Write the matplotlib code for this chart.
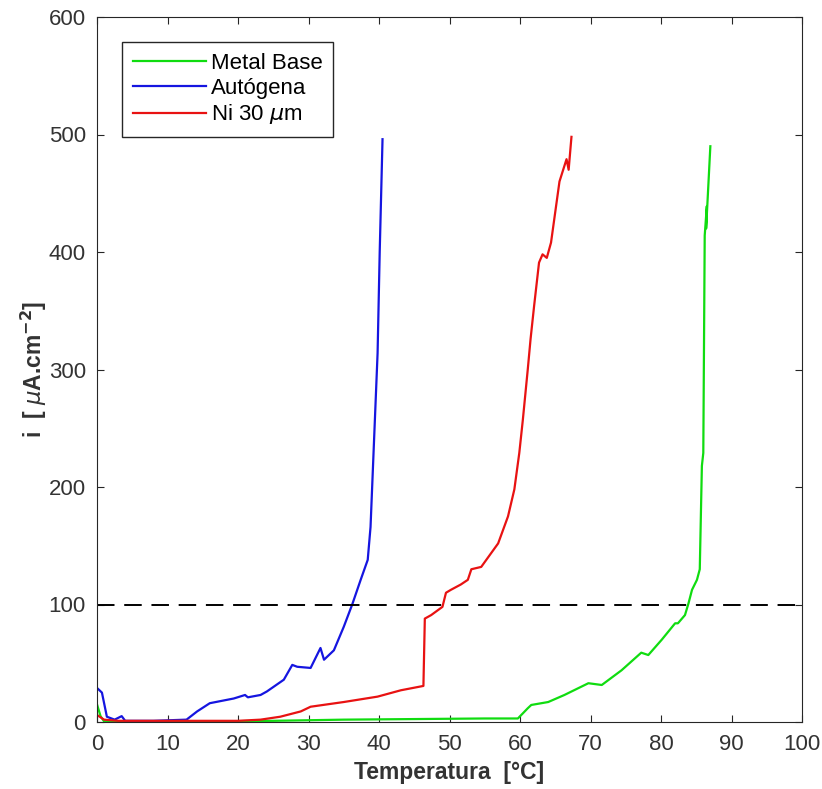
import matplotlib.pyplot as plt

plt.rcParams['font.family'] = ['Liberation Sans', 'DejaVu Sans']
plt.rc('xtick', labelsize=16)
plt.rc('ytick', labelsize=16)

# Metal Base
temp_base = [0, 0.5, 1.0, 5, 15, 25, 35, 45, 55, 59.7, 61.1, 61.6, 64.0, 66.3, 69.7, 71.6,
             74.4, 77.2, 78.2, 80.1, 82.0, 82.4, 83.4, 83.9, 84.4, 85.1, 85.5, 85.7,
             85.8, 86.0, 86.2, 86.5, 86.4, 87.0]
i_base = [15, 5, 0.5, 0.5, 0.5, 1, 2, 2.5, 3, 3, 11.7, 14.5, 17, 23, 33, 31.5,
          44, 59, 57, 70, 84, 84, 91, 101, 112.5, 121, 130, 189,
          218, 229, 414, 439, 420, 490]

# Autogena
temp_auto = [0, 0.7, 1.4, 2.5, 3.5, 4.0, 8, 12.7, 14.2, 16.0, 19.4, 21.0, 21.4, 23.2, 24.1,
             26.5, 27.7, 28.4, 30.3, 31.7, 32.2, 33.6, 35.0, 36.2, 37.4, 38.4, 38.8,
             39.3, 39.8, 40.1, 40.5]
i_auto = [29, 25, 4.5, 2, 5, 1, 1, 2, 9, 16, 20, 23, 21, 23, 26,
          36, 48.6, 47, 46, 63, 53, 61, 81, 100, 121, 138, 166,
          240, 314, 400, 496]

# Ni 30 um
temp_ni = [0, 1, 3, 10, 20, 23.2, 26.0, 28.9, 30.3, 35.0, 39.8, 43.1, 46.3, 46.5, 47.4,
           49.0, 49.5, 50.2, 51.6, 52.6, 53.1, 54.5, 56.9, 58.3, 59.2, 59.9, 60.4,
           61.1, 61.5, 62.0, 62.7, 63.2, 63.8, 64.4, 65.6, 66.6, 66.9, 67.3]
i_ni = [6, 2, 1, 1, 1, 2, 4.5, 9, 13, 17, 21.6, 27, 30.7, 88, 91,
        98, 110, 112.5, 117, 121, 130, 132, 152, 175, 198, 229, 257,
        300, 326, 354, 391, 398, 395, 408, 460, 479, 470, 498]

fig = plt.figure(figsize=(8.22, 7.89), dpi=100)
ax = fig.add_axes([97 / 822, 1 - 722 / 789, 705 / 822, 705 / 789])

ax.plot(temp_base, i_base, color='#10dc10', lw=1.6, label='Metal Base')
ax.plot(temp_auto, i_auto, color='#1515e0', lw=1.6, label='Autógena')
ax.plot(temp_ni, i_ni, color='#e81212', lw=1.6, label=r'Ni 30 $\mu$m')
ax.plot([0, 100], [100, 100], color='black', lw=1.4, linestyle=(0, (9, 5)))

ax.set_xlim(0, 100)
ax.set_ylim(0, 600)
ax.set_xticks(range(0, 101, 10))
ax.set_yticks(range(0, 601, 100))
ax.tick_params(direction='in', top=True, right=True, length=5, colors='#262626',
               labelcolor='#333333')
ax.tick_params(axis='x', pad=9)
ax.tick_params(axis='y', pad=8)
for s in ax.spines.values():
    s.set_color('#262626')

ax.set_xlabel('Temperatura  [°C]', fontsize=16.5, fontweight='bold', color='#333333',
              labelpad=4)
ax.set_ylabel(r'i  [ $\mu$A.cm$^{\mathbf{-2}}$]', fontsize=16.5, fontweight='bold',
              color='#333333', labelpad=0)

leg = ax.legend(loc='upper left', bbox_to_anchor=(0.035, 0.965), fontsize=16,
                handlelength=3.3, handletextpad=0.2, borderpad=0.5, labelspacing=0.17,
                borderaxespad=0, fancybox=False, framealpha=1, edgecolor='#262626')
leg.get_frame().set_linewidth(1.0)

plt.savefig('out.png', dpi=100)
